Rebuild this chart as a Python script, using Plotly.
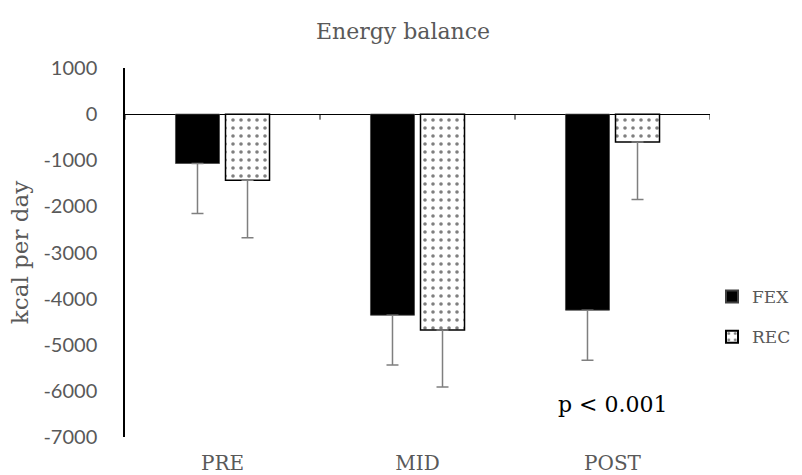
import plotly.graph_objects as go

categories = ["PRE", "MID", "POST"]
fex_values = [-1070, -4360, -4250]
fex_err = [1085, 1080, 1085]
rec_values = [-1435, -4680, -605]
rec_err = [1245, 1235, 1245]
y_ticks = [1000, 0, -1000, -2000, -3000, -4000, -5000, -6000, -7000]

serif = "DejaVu Serif"
sans = "Lato"
grey = "#595959"

fig = go.Figure()
fig.add_trace(go.Bar(
    name="FEX", x=categories, y=fex_values, legendgroup="fex",
    marker=dict(color="black", line=dict(color="#404040", width=0.75)),
    error_y=dict(type="data", symmetric=False, array=[0]*3, arrayminus=fex_err,
                 color="#7f7f7f", thickness=1.5, width=6),
))
fig.add_trace(go.Bar(
    name="REC", x=categories, y=rec_values, legendgroup="rec",
    marker=dict(color="white", line=dict(color="black", width=1.5),
                pattern=dict(shape=".", fgcolor="black", bgcolor="white",
                             size=8, solidity=0.16)),
    error_y=dict(type="data", symmetric=False, array=[0]*3, arrayminus=rec_err,
                 color="#7f7f7f", thickness=1.5, width=6),
))

# category divider ticks on the zero line
for xb in [-0.5, 0.5, 1.5, 2.5]:
    fig.add_shape(type="line", xref="x", yref="y", x0=xb, x1=xb, y0=0, y1=-120,
                  line=dict(color="black", width=1))

fig.add_annotation(text="p < 0.001", xref="x", yref="y", x=2.0, y=-6300,
                   showarrow=False, font=dict(family=serif, size=22, color="black"))

fig.update_layout(
    width=802, height=475,
    margin=dict(l=125, r=92, t=68, b=38, autoexpand=False),
    plot_bgcolor="white", paper_bgcolor="white",
    barmode="group", bargap=0.487, bargroupgap=0.12,
    title=dict(text="Energy balance", x=403 / 802, xanchor="center",
               y=1 - 31 / 475, yanchor="middle",
               font=dict(family=serif, size=22, color=grey)),
    legend=dict(x=(712 - 125) / 585, xanchor="left", y=(437 - 317) / 369, yanchor="middle",
                font=dict(family=serif, size=17, color=grey),
                tracegroupgap=15, itemsizing="constant", itemwidth=30,
                bgcolor="rgba(0,0,0,0)"),
    xaxis=dict(showline=False, ticks="", showgrid=False, ticklabelstandoff=12,
               tickfont=dict(family=serif, size=20, color=grey), range=[-0.5, 2.5]),
    yaxis=dict(range=[-7000, 1000], tickvals=y_ticks, ticktext=[str(v) for v in y_ticks],
               showgrid=False, zeroline=True, zerolinecolor="black", zerolinewidth=1.2,
               showline=True, linecolor="black", linewidth=1.5, ticks="",
               ticklabelstandoff=22,
               tickfont=dict(family=sans, size=20, color=grey),
               title=dict(text="kcal per day", font=dict(family=serif, size=23, color=grey),
                          standoff=8)),
)

fig.write_html("out.html")
